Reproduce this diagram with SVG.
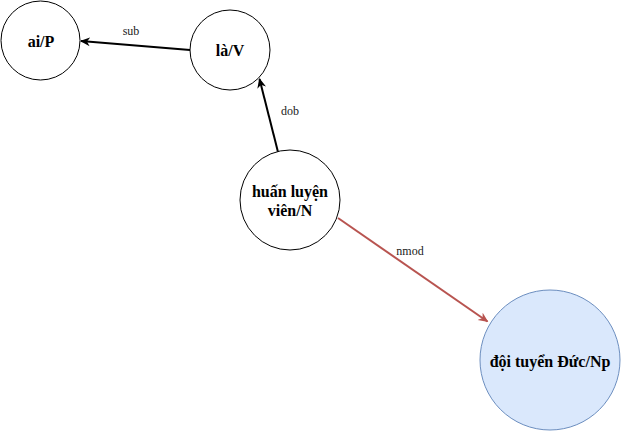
<svg xmlns="http://www.w3.org/2000/svg" width="621" height="431" viewBox="0 0 621 431">
<style>
.node{fill:#ffffff;stroke:#000000;stroke-width:1}
.blue{fill:#dae8fc;stroke:#6c8ebf;stroke-width:1}
.nt{font-family:"Liberation Serif",serif;font-weight:bold;font-size:16px;fill:#000000;text-anchor:middle;dominant-baseline:central}
.lbl{font-family:"Liberation Serif",serif;font-size:12px;fill:#1a1a1a;text-anchor:middle;dominant-baseline:central}
.edge{fill:none;stroke:#000000;stroke-width:2}
.red{stroke:#b85450}
</style>
<defs>
<marker id="ab" viewBox="0 0 10 10" refX="9" refY="5" markerWidth="10" markerHeight="10" markerUnits="userSpaceOnUse" orient="auto">
<path d="M0,0.5 L10,5 L0,9.5 L3,5 Z" fill="#000000"/>
</marker>
<marker id="ar" viewBox="0 0 10 10" refX="9" refY="5" markerWidth="10" markerHeight="10" markerUnits="userSpaceOnUse" orient="auto">
<path d="M0,0.5 L10,5 L0,9.5 L3,5 Z" fill="#b85450"/>
</marker>
</defs>
<g id="connectors">
<line class="edge" x1="190" y1="50" x2="81" y2="41" marker-end="url(#ab)"/>
<text class="lbl" x="131" y="31">sub</text>
<line class="edge" x1="278" y1="152" x2="259.5" y2="79" marker-end="url(#ab)"/>
<text class="lbl" x="290" y="111">dob</text>
<line class="edge red" x1="338" y1="218" x2="487.5" y2="321.5" marker-end="url(#ar)"/>
<text class="lbl" x="410" y="251">nmod</text>
</g>
<g id="node-ai"><circle class="node" cx="40.5" cy="40.5" r="39.5"/><text class="nt" x="41" y="41">ai/P</text></g>
<g id="node-la"><circle class="node" cx="230" cy="50" r="40"/><text class="nt" x="230" y="50">là/V</text></g>
<g id="node-huan"><circle class="node" cx="290" cy="200" r="50"/><text class="nt" x="290" y="191">huấn luyện</text><text class="nt" x="290" y="210">viên/N</text></g>
<g id="node-doi"><circle class="blue" cx="550" cy="360" r="70"/><text class="nt" x="550" y="361">đội tuyển Đức/Np</text></g>
</svg>
